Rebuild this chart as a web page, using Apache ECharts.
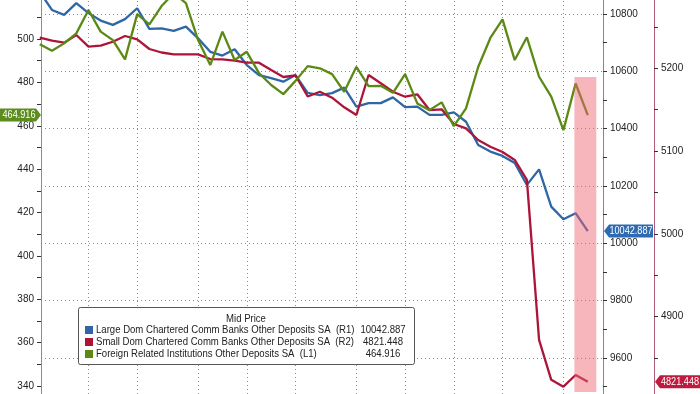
<!DOCTYPE html>
<html><head><meta charset="utf-8">
<script src="https://cdn.jsdelivr.net/npm/echarts@6/dist/echarts.min.js"></script>
<style>html,body{margin:0;padding:0;background:#fff}#c{width:700px;height:394px}</style>
</head><body><div id="c"></div>
<script>
// Weekly observations (index 0..45)
const weeks = Array.from({length: 46}, (_, i) => i);
// Large Dom Chartered Comm Banks Other Deposits SA (R1)
const largeDom = [10877,10814,10797,10838,10803,10777,10762,10782,10820,10748,
  10750,10741,10756,10715,10668,10655,10677,10622,10587,10576,
  10564,10587,10525,10517,10524,10543,10477,10489,10489,10509,
  10475,10477,10448,10448,10457,10424,10343,10320,10305,10280,
  10204,10258,10128,10084,10105,10042.887];
// Small Dom Chartered Comm Banks Other Deposits SA (R2)
const smallDom = [5237.0,5233.3,5230.9,5240.2,5226.1,5227.3,5232.1,5239.0,5235.0,5223.3,
  5219.1,5216.9,5216.9,5216.9,5211.2,5210.9,5209.2,5206.8,5206.8,5197.9,
  5189.5,5191.3,5165.9,5171.7,5164.5,5152.9,5143.6,5191.9,5181.9,5171.7,
  5165.7,5168.6,5149.6,5150.5,5132.7,5127.5,5113.4,5105.3,5098.9,5089.3,
  5065.2,4872.0,4823.7,4815.5,4829.6,4821.448];
// Foreign Related Institutions Other Deposits SA (L1)
const foreign = [497.6,494.6,498.0,502.6,513.4,503.4,499.5,490.6,511.5,506.8,
  515.2,521.1,516.6,499.5,488.0,503.4,490.3,494.1,484.3,478.8,
  474.6,480.7,487.5,486.5,483.8,475.7,487.2,478.3,478.4,475.2,
  483.8,470.3,467.2,470.8,459.8,468.0,487.1,500.5,509.1,490.3,
  500.8,482.6,473.4,458.0,479.5,464.916];

const seriesNames = ['Large Dom Chartered Comm Banks Other Deposits SA',
  'Small Dom Chartered Comm Banks Other Deposits SA',
  'Foreign Related Institutions Other Deposits SA'];
const axisTags = ['(R1)', '(R2)', '(L1)'];
const lastValues = ['10042.887', '4821.448', '464.916'];
const legendTitle = 'Mid Price';

// Tick values
const leftLabels = [340,360,380,400,420,440,460,480,500];
const leftTicks = [340,350,360,370,380,390,400,410,420,430,440,450,460,470,480,490,500,510];
const r1Labels = [9600,9800,10000,10200,10400,10600,10800];
const r1Ticks = [9500,9600,9700,9800,9900,10000,10100,10200,10300,10400,10500,10600,10700,10800];
const r2Labels = [4900,5000,5100,5200];
const r2Ticks = [4850,4900,4950,5000,5050,5100,5150,5200,5250];
const monthLines = [4,8,13,17,21,26,30,34,38,43];
const shadeX = [43.9, 45.7];
const shadeY = [10580, 9481];

const C_BLUE = '#2f66a6', C_RED = '#ad1538', C_GREEN = '#5b8a14';
const FONT = '"Liberation Sans", Arial, sans-serif';
const SX = 0.87; // horizontal squeeze to mimic the condensed terminal font

const toXY = arr => arr.map((v, i) => [weeks[i], v]);
const gridLine = {type: [1, 3], color: '#8a8a8a', width: 1};

function yAx(pos, min, max, ticks, labels, color, offset) {
  return {
    type: 'value', position: pos, offset: offset || 0, min: min, max: max,
    axisLine: {show: true, lineStyle: {color: color, width: 1}},
    axisTick: {show: true, customValues: ticks, length: 4, lineStyle: {color: '#333'}},
    axisLabel: {customValues: labels, color: '#222', fontSize: 10, fontFamily: FONT, margin: 7,
      formatter: v => String(v)},
    splitLine: {show: false}
  };
}

const chart = echarts.init(document.getElementById('c'), null, {renderer: 'canvas'});
chart.setOption({
  animation: false,
  backgroundColor: '#fff',
  grid: {left: 41, right: 97, top: 0, bottom: 0, containLabel: false},
  xAxis: {type: 'value', min: 0.1, max: 46.25, show: false},
  yAxis: [
    yAx('left', 336.3, 518.0, leftTicks, leftLabels, '#8f9a3e'),
    yAx('right', 9474.4, 10848.8, r1Ticks, r1Labels, '#5a98a8'),
    yAx('right', 4806.6, 5282.5, r2Ticks, r2Labels, '#b15a7b', 51)
  ],
  series: [
    {name: 'grid', type: 'line', data: [], yAxisIndex: 1, silent: true,
     markLine: {silent: true, symbol: ['none', 'none'], z: 1, label: {show: false},
       lineStyle: gridLine, animation: false,
       data: monthLines.map(v => ({xAxis: v})).concat(r1Labels.map(v => ({yAxis: v})))}},
    {name: seriesNames[0], type: 'line', yAxisIndex: 1, data: toXY(largeDom), showSymbol: false,
     lineStyle: {color: C_BLUE, width: 2.3}, itemStyle: {color: C_BLUE}, z: 3},
    {name: seriesNames[1], type: 'line', yAxisIndex: 2, data: toXY(smallDom), showSymbol: false,
     lineStyle: {color: C_RED, width: 2.3}, itemStyle: {color: C_RED}, z: 3},
    {name: seriesNames[2], type: 'line', yAxisIndex: 0, data: toXY(foreign), showSymbol: false,
     lineStyle: {color: C_GREEN, width: 2.3}, itemStyle: {color: C_GREEN}, z: 3},
    {name: 'shade', type: 'line', data: [], yAxisIndex: 1, silent: true, z: 8,
     markArea: {silent: true, z: 8, itemStyle: {color: 'rgba(238,100,114,0.48)'},
       data: [[{xAxis: shadeX[0], yAxis: shadeY[0]}, {xAxis: shadeX[1], yAxis: shadeY[1]}]]}}
  ]
});

// legend box built from the series names / last values
const colors = [C_BLUE, C_RED, C_GREEN];
const legendEls = [
  {type: 'rect', id: 'box', z: 5, shape: {x: 78.5, y: 307.5, width: 336, height: 57, r: 2},
   style: {fill: '#fff', stroke: '#555', lineWidth: 1}},
  {type: 'text', id: 'title', z: 6, x: 246, y: 319, scaleX: SX,
   style: {text: legendTitle, fill: '#222', font: '11px ' + FONT, align: 'center', verticalAlign: 'middle'}}
];
seriesNames.forEach((nm, k) => {
  const cy = 330 + 12 * k;
  legendEls.push({type: 'rect', id: 'sq' + k, z: 6, shape: {x: 85, y: cy - 4, width: 8, height: 8},
    style: {fill: colors[k]}});
  legendEls.push({type: 'text', id: 'nm' + k, z: 6, x: 96, y: cy, scaleX: SX,
    style: {text: nm + '  ' + axisTags[k], fill: '#222', font: '11px ' + FONT, align: 'left', verticalAlign: 'middle'}});
  legendEls.push({type: 'text', id: 'vl' + k, z: 6, x: 383, y: cy, scaleX: SX,
    style: {text: lastValues[k], fill: '#222', font: '11px ' + FONT, align: 'center', verticalAlign: 'middle'}});
});

// value tags on the axes, positioned through the axis scales
const yG = chart.convertToPixel({yAxisIndex: 0}, foreign[foreign.length - 1]);
const yB = chart.convertToPixel({yAxisIndex: 1}, largeDom[largeDom.length - 1]);
const yR = chart.convertToPixel({yAxisIndex: 2}, smallDom[smallDom.length - 1]);
function rightTag(id, y, x0, x1, color, text) {
  return [
    {type: 'polygon', id: id + 'p', z: 10, shape: {points: [[x0, y], [x0 + 5, y - 6.5], [x1, y - 6.5], [x1, y + 6.5], [x0 + 5, y + 6.5]]},
     style: {fill: color}},
    {type: 'text', id: id + 't', z: 11, x: (x0 + 5 + x1) / 2, y: y, scaleX: SX,
     style: {text: text, fill: '#fff', font: '10.5px ' + FONT, align: 'center', verticalAlign: 'middle'}}
  ];
}
const tags = [
  {type: 'polygon', id: 'gp', z: 10, shape: {points: [[0, yG - 6.5], [36, yG - 6.5], [41, yG], [36, yG + 6.5], [0, yG + 6.5]]},
   style: {fill: '#5c8d1c'}},
  {type: 'text', id: 'gt', z: 11, x: 19, y: yG, scaleX: SX,
   style: {text: lastValues[2], fill: '#fff', font: '10.5px ' + FONT, align: 'center', verticalAlign: 'middle'}}
].concat(rightTag('b', yB, 604, 653, '#2c6bb2', lastValues[0]))
 .concat(rightTag('r', yR, 655, 700, '#bf1a40', lastValues[1]));
chart.setOption({graphic: legendEls.concat(tags)});
</script>
</body></html>
